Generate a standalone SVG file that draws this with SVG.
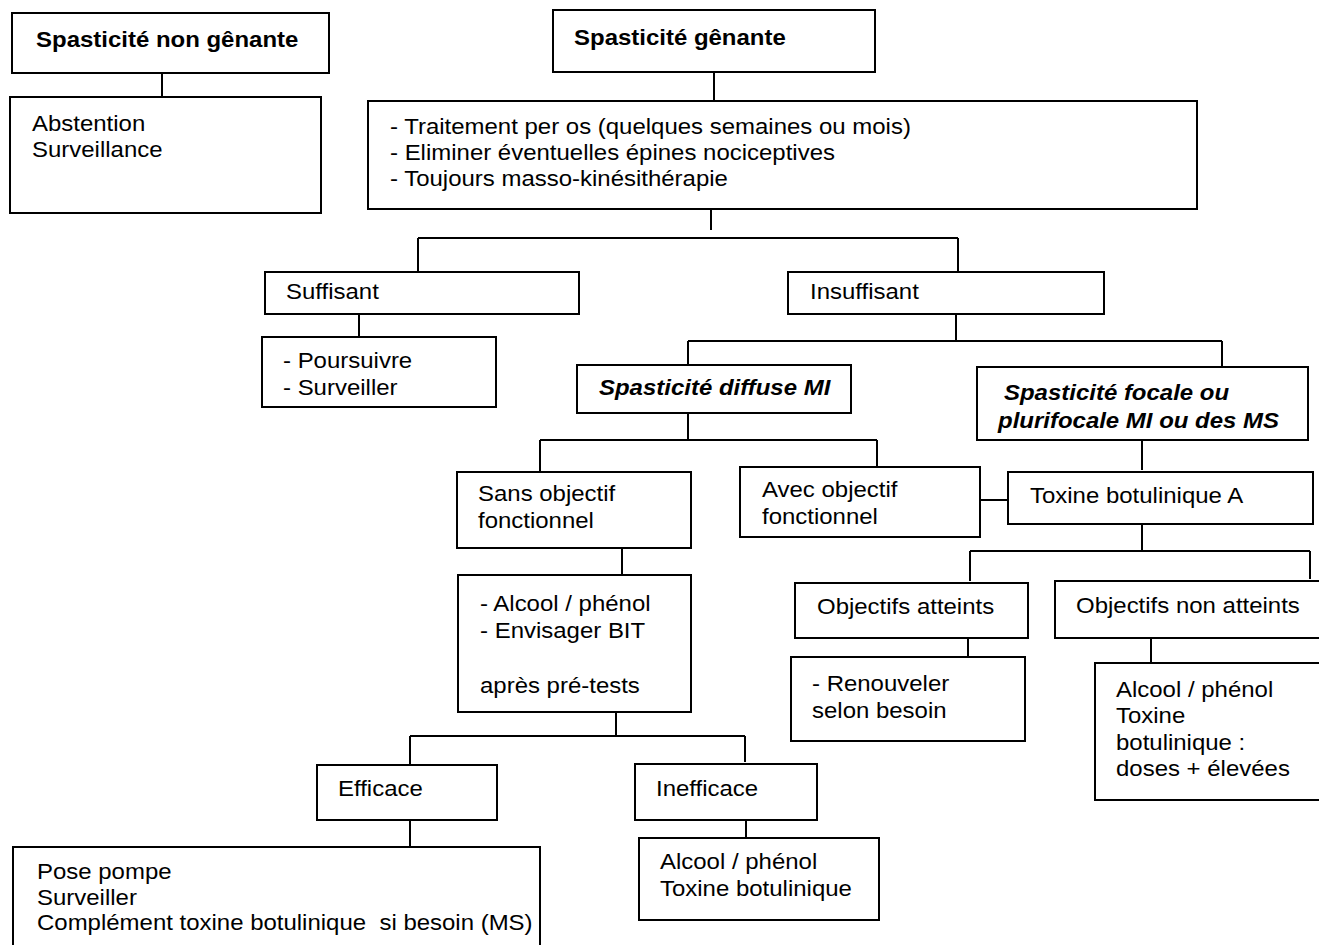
<svg xmlns="http://www.w3.org/2000/svg" width="1319" height="945" viewBox="0 0 1319 945">
<style>
.box{fill:#fff;stroke:#000;stroke-width:2}
.t{font-family:"Liberation Sans",Arial,sans-serif;font-size:22px;fill:#000}
.b{font-weight:bold}
.bi{font-weight:bold;font-style:italic}
.c line{stroke:#000;stroke-width:2}
</style>
<rect width="1319" height="945" fill="#fff"/>
<g class="c" id="connectors">
<line x1="162" y1="73" x2="162" y2="97"/>
<line x1="714" y1="72" x2="714" y2="101"/>
<line x1="711" y1="205" x2="711" y2="230"/>
<line x1="418" y1="238" x2="958" y2="238"/>
<line x1="418" y1="238" x2="418" y2="272"/>
<line x1="958" y1="238" x2="958" y2="272"/>
<line x1="359" y1="314" x2="359" y2="337"/>
<line x1="956" y1="314" x2="956" y2="341"/>
<line x1="688" y1="341" x2="1222" y2="341"/>
<line x1="688" y1="341" x2="688" y2="365"/>
<line x1="1222" y1="341" x2="1222" y2="367"/>
<line x1="688" y1="413" x2="688" y2="440"/>
<line x1="540" y1="440" x2="877" y2="440"/>
<line x1="540" y1="440" x2="540" y2="472"/>
<line x1="877" y1="440" x2="877" y2="467"/>
<line x1="1142" y1="440" x2="1142" y2="470"/>
<line x1="980" y1="500" x2="1008" y2="500"/>
<line x1="1142" y1="524" x2="1142" y2="551"/>
<line x1="970" y1="551" x2="1310" y2="551"/>
<line x1="970" y1="551" x2="970" y2="581"/>
<line x1="1310" y1="551" x2="1310" y2="579"/>
<line x1="968" y1="638" x2="968" y2="662"/>
<line x1="1151" y1="638" x2="1151" y2="663"/>
<line x1="622" y1="548" x2="622" y2="574"/>
<line x1="616" y1="712" x2="616" y2="736"/>
<line x1="410" y1="736" x2="745" y2="736"/>
<line x1="410" y1="736" x2="410" y2="765"/>
<line x1="745" y1="736" x2="745" y2="762"/>
<line x1="410" y1="820" x2="410" y2="847"/>
<line x1="746" y1="820" x2="746" y2="838"/>
</g>
<g id="n-non-genante"><rect class="box" x="12" y="13" width="317" height="60"/><text class="t b" transform="scale(1.09 1)" x="33.03" y="47">Spasticité non gênante</text></g>
<g id="n-abstention"><rect class="box" x="10" y="97" width="311" height="116"/><text class="t" transform="scale(1.09 1)" x="29.36" y="131">Abstention<tspan x="29.36" dy="26">Surveillance</tspan></text></g>
<g id="n-genante"><rect class="box" x="553" y="10" width="322" height="62"/><text class="t b" transform="scale(1.09 1)" x="526.61" y="45">Spasticité gênante</text></g>
<g id="n-traitement"><rect class="box" x="368" y="101" width="829" height="108"/><text class="t" transform="scale(1.09 1)" x="357.8" y="134">- Traitement per os (quelques semaines ou mois)<tspan x="357.8" dy="26">- Eliminer éventuelles épines nociceptives</tspan><tspan x="357.8" dy="26">- Toujours masso-kinésithérapie</tspan></text></g>
<g id="n-suffisant"><rect class="box" x="265" y="272" width="314" height="42"/><text class="t" transform="scale(1.09 1)" x="262.39" y="299">Suffisant</text></g>
<g id="n-insuffisant"><rect class="box" x="788" y="272" width="316" height="42"/><text class="t" transform="scale(1.09 1)" x="743.12" y="299">Insuffisant</text></g>
<g id="n-poursuivre"><rect class="box" x="262" y="337" width="234" height="70"/><text class="t" transform="scale(1.09 1)" x="259.63" y="368">- Poursuivre<tspan x="259.63" dy="27">- Surveiller</tspan></text></g>
<g id="n-diffuse"><rect class="box" x="577" y="365" width="274" height="48"/><text class="t bi" transform="scale(1.09 1)" x="549.54" y="395">Spasticité diffuse MI</text></g>
<g id="n-focale"><rect class="box" x="977" y="367" width="331" height="73"/><text class="t bi" transform="scale(1.09 1)" x="921.1" y="400">Spasticité focale ou<tspan x="915.6" dy="28">plurifocale MI ou des MS</tspan></text></g>
<g id="n-sans"><rect class="box" x="457" y="472" width="234" height="76"/><text class="t" transform="scale(1.09 1)" x="438.53" y="501">Sans objectif<tspan x="438.53" dy="27">fonctionnel</tspan></text></g>
<g id="n-avec"><rect class="box" x="740" y="467" width="240" height="70"/><text class="t" transform="scale(1.09 1)" x="699.08" y="497">Avec objectif<tspan x="699.08" dy="27">fonctionnel</tspan></text></g>
<g id="n-toxine-a"><rect class="box" x="1008" y="472" width="305" height="52"/><text class="t" transform="scale(1.09 1)" x="944.95" y="503">Toxine botulinique A</text></g>
<g id="n-atteints"><rect class="box" x="795" y="583" width="233" height="55"/><text class="t" transform="scale(1.09 1)" x="749.54" y="614">Objectifs atteints</text></g>
<g id="n-non-atteints"><rect class="box" x="1055" y="581" width="270" height="57"/><text class="t" transform="scale(1.09 1)" x="987.16" y="613">Objectifs non atteints</text></g>
<g id="n-renouveler"><rect class="box" x="791" y="657" width="234" height="84"/><text class="t" transform="scale(1.09 1)" x="744.95" y="691">- Renouveler<tspan x="744.95" dy="27">selon besoin</tspan></text></g>
<g id="n-alcool-right"><rect class="box" x="1095" y="663" width="230" height="137"/><text class="t" transform="scale(1.09 1)" x="1023.85" y="697">Alcool / phénol<tspan x="1023.85" dy="26.5">Toxine</tspan><tspan x="1023.85" dy="26.5">botulinique :</tspan><tspan x="1023.85" dy="26.5">doses + élevées</tspan></text></g>
<g id="n-alcool-mid"><rect class="box" x="458" y="575" width="233" height="137"/><text class="t" transform="scale(1.09 1)" x="440.37" y="611">- Alcool / phénol<tspan x="440.37" dy="27">- Envisager BIT</tspan><tspan x="440.37" dy="55">après pré-tests</tspan></text></g>
<g id="n-efficace"><rect class="box" x="317" y="765" width="180" height="55"/><text class="t" transform="scale(1.09 1)" x="310.09" y="796">Efficace</text></g>
<g id="n-inefficace"><rect class="box" x="635" y="764" width="182" height="56"/><text class="t" transform="scale(1.09 1)" x="601.83" y="796">Inefficace</text></g>
<g id="n-pose"><rect class="box" x="13" y="847" width="527" height="110"/><text class="t" transform="scale(1.09 1)" x="33.94" y="879">Pose pompe<tspan x="33.94" dy="25.7">Surveiller</tspan><tspan x="33.94" dy="25.7" xml:space="preserve">Complément toxine botulinique  si besoin (MS)</tspan></text></g>
<g id="n-alcool-bottom"><rect class="box" x="639" y="838" width="240" height="82"/><text class="t" transform="scale(1.09 1)" x="605.5" y="869">Alcool / phénol<tspan x="605.5" dy="27">Toxine botulinique</tspan></text></g>
</svg>
